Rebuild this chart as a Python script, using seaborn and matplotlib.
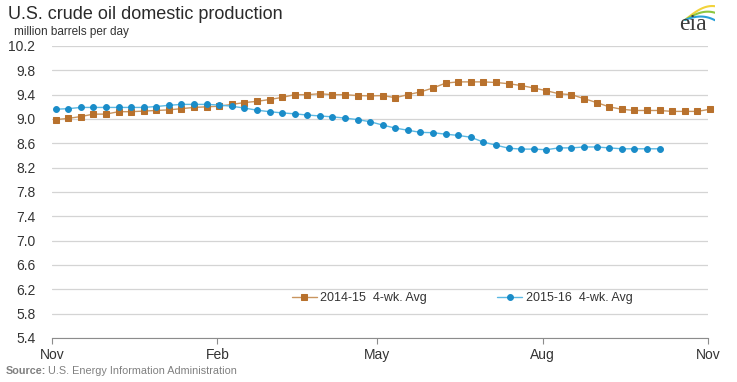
import matplotlib
matplotlib.use("Agg")
import matplotlib.pyplot as plt
import seaborn as sns
import pandas as pd
import numpy as np

# weekly 4-week averages, million barrels per day
prod_1415 = [8.99, 9.01, 9.04, 9.08, 9.08, 9.12, 9.12, 9.13, 9.14, 9.15,
             9.17, 9.19, 9.20, 9.21, 9.24, 9.27, 9.29, 9.32, 9.355, 9.40,
             9.40, 9.415, 9.40, 9.40, 9.385, 9.38, 9.385, 9.35, 9.40, 9.445,
             9.51, 9.59, 9.61, 9.61, 9.61, 9.60, 9.58, 9.55, 9.51, 9.465,
             9.415, 9.40, 9.335, 9.27, 9.20, 9.16, 9.14, 9.14, 9.14, 9.125,
             9.125, 9.125, 9.16]
prod_1516 = [9.16, 9.17, 9.19, 9.19, 9.19, 9.19, 9.19, 9.19, 9.205, 9.225,
             9.24, 9.24, 9.24, 9.23, 9.21, 9.18, 9.145, 9.12, 9.10, 9.085,
             9.065, 9.05, 9.035, 9.015, 8.99, 8.955, 8.90, 8.85, 8.815, 8.78,
             8.775, 8.75, 8.73, 8.70, 8.62, 8.57, 8.52, 8.505, 8.505, 8.495,
             8.525, 8.525, 8.54, 8.54, 8.525, 8.51, 8.51, 8.51, 8.51]
series_names = ["2014-15  4-wk. Avg", "2015-16  4-wk. Avg"]
tick_dates = ["2014-11-01", "2015-02-01", "2015-05-01", "2015-08-01", "2015-11-01"]
tick_labels = ["Nov", "Feb", "May", "Aug", "Nov"]
y_ticks = [5.4, 5.8, 6.2, 6.6, 7.0, 7.4, 7.8, 8.2, 8.6, 9.0, 9.4, 9.8, 10.2]

weeks_a = pd.date_range("2014-11-03", periods=len(prod_1415), freq="7D")
weeks_b = pd.date_range("2014-11-03", periods=len(prod_1516), freq="7D")
df_a = pd.DataFrame({"week": weeks_a, "value": prod_1415})
df_b = pd.DataFrame({"week": weeks_b, "value": prod_1516})

sns.set_style("white")
plt.rcParams['font.family'] = ['Liberation Sans', 'DejaVu Sans']

fig = plt.figure(figsize=(7.37, 3.82), dpi=100)
ax = fig.add_axes([0.0706, 0.1152, 0.8901, 0.7644])

sns.lineplot(data=df_a, x="week", y="value", ax=ax, color="#C9955F", lw=1.0,
             marker="s", markersize=4.2, markerfacecolor="#B8712D",
             markeredgecolor="#B8712D", label=series_names[0], clip_on=False)
sns.lineplot(data=df_b, x="week", y="value", ax=ax, color="#5BB8E3", lw=1.0,
             marker="o", markersize=4.2, markerfacecolor="#1A8CC8",
             markeredgecolor="#1A8CC8", label=series_names[1], clip_on=False)

ax.set_xlim(pd.Timestamp(tick_dates[0]), pd.Timestamp(tick_dates[-1]))
ax.set_ylim(5.4, 10.2)
ax.set_xticks([pd.Timestamp(d) for d in tick_dates])
ax.set_xticklabels(tick_labels)
ax.set_yticks(y_ticks)
ax.set_yticklabels([f"{v:.1f}" for v in y_ticks])
ax.set_xlabel("")
ax.set_ylabel("")

ax.grid(axis="y", color="#D4D4D4", lw=0.9)
ax.grid(axis="x", visible=False)
for s in ["top", "right", "left"]:
    ax.spines[s].set_visible(False)
ax.spines["bottom"].set_color("#8C8C8C")
ax.tick_params(axis="x", direction="out", length=4, color="#8C8C8C",
               labelsize=10, labelcolor="#333333", pad=3, bottom=True)
ax.tick_params(axis="y", length=0, labelsize=10, labelcolor="#333333", pad=12)

leg = ax.legend(loc="center", bbox_to_anchor=(0.625, 0.137), ncol=2,
                frameon=False, fontsize=9, handlelength=2.0,
                columnspacing=5.6, handletextpad=0.3)
for t in leg.get_texts():
    t.set_color("#333333")

fig.text(0.011, 0.963, "U.S. crude oil domestic production", fontsize=13,
         color="#2A2A2A", va="center")
fig.text(0.019, 0.916, "million barrels per day", fontsize=8.5,
         color="#333333", va="center")

# source line: bold label then plain text right after it
src = fig.text(0.008, 0.028, "Source:", fontsize=7.8, color="#808080",
               fontweight="bold", va="center")
fig.canvas.draw()
bb = src.get_window_extent(fig.canvas.get_renderer())
fig.text(bb.x1 / fig.bbox.width + 0.002, 0.028,
         "U.S. Energy Information Administration", fontsize=7.8,
         color="#808080", va="center")

# eia logo
fig.text(0.94, 0.935, "eia", fontsize=17, color="#3A3A3A", ha="center",
         va="center", family=['Liberation Serif', 'DejaVu Serif'])
lax = fig.add_axes([0.925, 0.94, 0.045, 0.052])
lax.set_xlim(0, 1)
lax.set_ylim(0, 1)
lax.axis("off")
t = np.linspace(0, 1, 40)
for c, lift, drop in [("#F2D33B", 0.7, 0.0), ("#8DC63F", 0.52, 0.15), ("#2AA0D8", 0.34, 0.35)]:
    lax.plot(0.1 + 0.9 * t, 0.15 + lift * np.sin(t * np.pi * 0.55) - drop * t ** 2,
             color=c, lw=1.5, solid_capstyle="round")

fig.savefig("out.png", dpi=100)
